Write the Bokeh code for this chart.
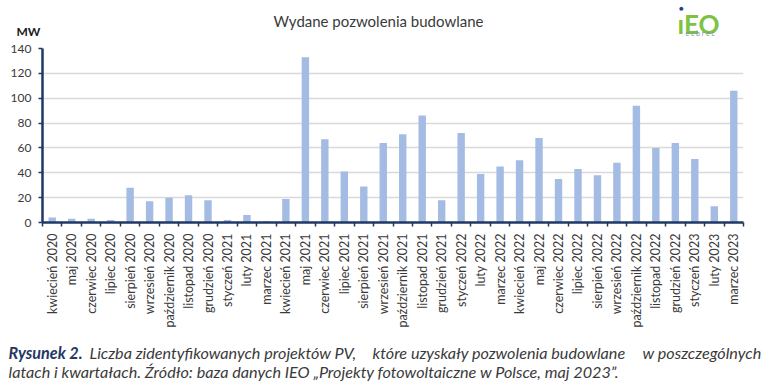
import math
from bokeh.plotting import figure
from bokeh.models import (Range1d, LinearAxis, FixedTicker, Label, ColumnDataSource)
from bokeh.embed import file_html
from bokeh.resources import INLINE

# ---- data -------------------------------------------------------------
months = [
    "kwiecień 2020", "maj 2020", "czerwiec 2020", "lipiec 2020", "sierpień 2020",
    "wrzesień 2020", "październik 2020", "listopad 2020", "grudzień 2020",
    "styczeń 2021", "luty 2021", "marzec 2021", "kwiecień 2021", "maj 2021",
    "czerwiec 2021", "lipiec 2021", "sierpień 2021", "wrzesień 2021",
    "październik 2021", "listopad 2021", "grudzień 2021", "styczeń 2022",
    "luty 2022", "marzec 2022", "kwiecień 2022", "maj 2022", "czerwiec 2022",
    "lipiec 2022", "sierpień 2022", "wrzesień 2022", "październik 2022",
    "listopad 2022", "grudzień 2022", "styczeń 2023", "luty 2023", "marzec 2023",
]
values_mw = [
    4, 3, 3, 2, 28, 17, 20, 22, 18,
    2, 6, 1, 19, 133, 67, 41, 29, 64,
    71, 86, 18, 72, 39, 45, 50, 68, 35,
    43, 38, 48, 94, 60, 64, 51, 13, 106,
]
y_ticks = [0, 20, 40, 60, 80, 100, 120, 140]

title_text = "Wydane pozwolenia budowlane"
unit_text = "MW"
caption_lead = "Rysunek 2."
caption_line1_parts = ["Liczba zidentyfikowanych projektów PV,",
                       "które uzyskały pozwolenia budowlane",
                       "w poszczególnych"]
caption_line2 = ("latach i kwartałach. Źródło: baza danych IEO „Projekty fotowoltaiczne "
                 "w Polsce, maj 2023”.")

# ---- style ------------------------------------------------------------
W = 768
HEAD_H, CHART_H, CAP_H = 40, 290, 59
LEFT, RIGHT, TOP, BOTTOM = 42, 25, 8, 107
AXIS_BLUE = "#1F3864"
BAR = "#A4BBE3"
TXT = "#3A3A3A"
FONT = "Lato"


def bare_fig(h):
    # a text strip whose frame covers the whole strip
    f = figure(width=W, height=h, x_range=Range1d(0, 1), y_range=Range1d(0, 1),
               output_backend="svg", toolbar_location=None,
               x_axis_location=None, y_axis_location=None, min_border=0)
    f.outline_line_color = None
    f.grid.visible = False
    return f


def lab(fig_h, x, y, text, **kw):
    # x, y: pixels from the top-left corner of the strip
    return Label(x=x, y=fig_h - y, x_units="screen", y_units="screen",
                 text=text, **kw)


# ---- header strip ------------------------------------------------------
head = bare_fig(HEAD_H)
head.add_layout(lab(HEAD_H, 378, 20, title_text, text_font=FONT, text_font_size="15px",
                    text_color=TXT, text_align="center", text_baseline="middle"))
head.add_layout(lab(HEAD_H, 16, 31, unit_text, text_font=FONT, text_font_size="12px",
                    text_font_style="bold", text_color="#1a1a1a",
                    text_align="left", text_baseline="middle"))
head.add_layout(lab(HEAD_H, 677, 23, "ıEO", text_font=FONT, text_font_size="26px",
                    text_font_style="bold", text_color="#7DC242",
                    text_align="left", text_baseline="alphabetic"))
head.add_layout(lab(HEAD_H, 681, 7, "●", text_font=FONT, text_font_size="8px",
                    text_color="#1F3F8F", text_align="center", text_baseline="middle"))
head.add_layout(lab(HEAD_H, 685, 32, "e c   b r e c", text_font=FONT,
                    text_font_size="7px", text_color="#8090A8",
                    text_align="left", text_baseline="middle"))

# ---- chart -------------------------------------------------------------
n = len(months)
centers = [i + 0.5 for i in range(n)]      # category slot centres
edges = list(range(n + 1))                  # category slot boundaries
src = ColumnDataSource(dict(x=centers, mw=values_mw, month=months))

p = figure(width=W, height=CHART_H,
           x_range=Range1d(0, n), y_range=Range1d(0, 140),
           output_backend="svg", toolbar_location=None,
           x_axis_location=None, y_axis_location="left",
           min_border_left=LEFT, min_border_right=RIGHT,
           min_border_top=TOP, min_border_bottom=BOTTOM)
p.outline_line_color = None

p.yaxis.ticker = FixedTicker(ticks=y_ticks)
p.yaxis.axis_line_color = AXIS_BLUE
p.yaxis.axis_line_width = 2.5
p.yaxis.major_tick_line_color = AXIS_BLUE
p.yaxis.major_tick_line_width = 1.5
p.yaxis.major_tick_in = 0
p.yaxis.major_tick_out = 4
p.yaxis.minor_tick_line_color = None
p.yaxis.major_label_text_font = FONT
p.yaxis.major_label_text_font_size = "12px"
p.yaxis.major_label_text_color = TXT
p.yaxis.major_label_standoff = 7
p.ygrid.grid_line_color = "#D9D9D9"
p.ygrid.grid_line_width = 1.5
p.xgrid.visible = False

edge_axis = LinearAxis(ticker=FixedTicker(ticks=edges),
                       major_label_overrides={e: "" for e in edges},
                       major_label_text_font_size="1px",
                       major_label_standoff=0,
                       major_tick_in=0, major_tick_out=4,
                       major_tick_line_color=AXIS_BLUE, major_tick_line_width=1.5,
                       minor_tick_line_color=None,
                       axis_line_color=AXIS_BLUE, axis_line_width=2.5)
p.add_layout(edge_axis, "below")
label_axis = LinearAxis(ticker=FixedTicker(ticks=centers),
                        major_label_overrides={c: m for c, m in zip(centers, months)},
                        major_tick_line_color=None, minor_tick_line_color=None,
                        axis_line_color=None,
                        major_label_orientation=math.pi / 2,
                        major_label_text_font=FONT,
                        major_label_text_font_size="12.5px",
                        major_label_text_color=TXT,
                        major_label_standoff=1)
p.add_layout(label_axis, "below")

p.vbar(x="x", top="mw", width=0.38, source=src, fill_color=BAR, line_color=None)

# ---- caption strip -----------------------------------------------------
cap = bare_fig(CAP_H)
CAP_FONT = "16.2px"
cap.add_layout(lab(CAP_H, 8, 22, caption_lead, text_font=FONT, text_font_size=CAP_FONT,
                   text_font_style="bold italic", text_color="#1F3864",
                   text_align="left", text_baseline="middle"))
cap.add_layout(lab(CAP_H, 89, 22, caption_line1_parts[0], text_font=FONT,
                   text_font_size=CAP_FONT, text_font_style="italic", text_color=TXT,
                   text_align="left", text_baseline="middle"))
cap.add_layout(lab(CAP_H, 372, 22, caption_line1_parts[1], text_font=FONT,
                   text_font_size=CAP_FONT, text_font_style="italic", text_color=TXT,
                   text_align="left", text_baseline="middle"))
cap.add_layout(lab(CAP_H, 761, 22, caption_line1_parts[2], text_font=FONT,
                   text_font_size=CAP_FONT, text_font_style="italic", text_color=TXT,
                   text_align="right", text_baseline="middle"))
cap.add_layout(lab(CAP_H, 8, 41, caption_line2, text_font=FONT, text_font_size=CAP_FONT,
                   text_font_style="italic", text_color=TXT,
                   text_align="left", text_baseline="middle"))

# three independent roots stacked on the page (no frame alignment between them)
open("out.html", "w").write(file_html([head, p, cap], INLINE))
